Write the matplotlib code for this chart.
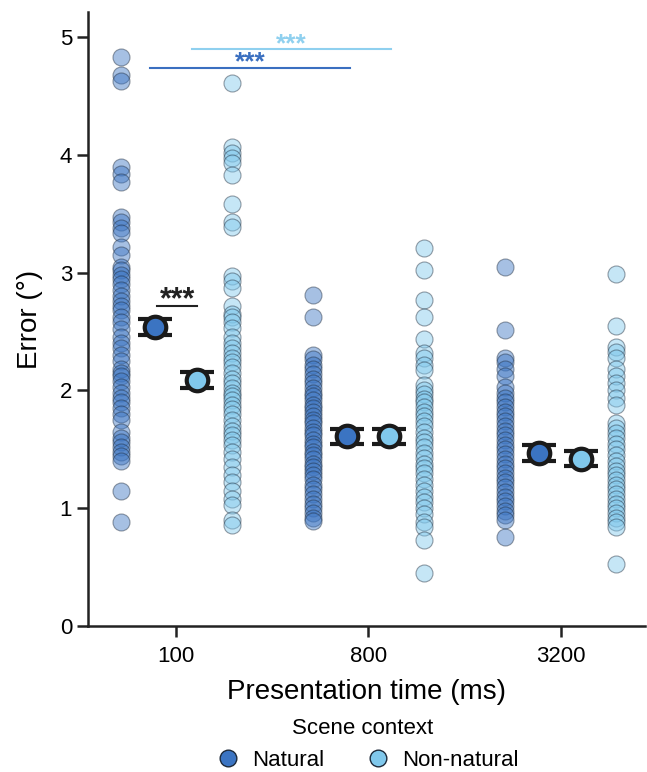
import matplotlib.pyplot as plt
from matplotlib.lines import Line2D
import numpy as np

plt.rcParams['font.family'] = ['Liberation Sans', 'DejaVu Sans']

# Dades
temps = ["100", "800", "3200"]
contextos = ["Natural", "Non-natural"]

natural_100 = [4.83, 4.68, 4.63, 3.90, 3.84, 3.77, 3.47, 3.43, 3.38, 3.34, 3.22, 3.15,
               3.05, 3.02, 2.98, 2.95, 2.90, 2.85, 2.80, 2.76, 2.72, 2.68, 2.62, 2.58,
               2.52, 2.45, 2.40, 2.36, 2.30, 2.25, 2.18, 2.15, 2.12, 2.08, 2.03, 1.98,
               1.94, 1.90, 1.85, 1.80, 1.75, 1.65, 1.60, 1.56, 1.52, 1.48, 1.44, 1.40,
               1.15, 0.88]
nonnat_100 = [4.61, 4.07, 4.02, 3.97, 3.93, 3.83, 3.58, 3.43, 3.39, 2.97, 2.93, 2.87,
              2.72, 2.65, 2.62, 2.58, 2.53, 2.45, 2.40, 2.36, 2.32, 2.28, 2.24, 2.20,
              2.15, 2.10, 2.06, 2.02, 1.98, 1.95, 1.92, 1.88, 1.84, 1.80, 1.75, 1.70,
              1.66, 1.62, 1.58, 1.54, 1.48, 1.42, 1.35, 1.28, 1.22, 1.15, 1.08, 1.03,
              0.90, 0.86]
natural_800 = [2.81, 2.62, 2.30, 2.27, 2.22, 2.18, 2.14, 2.10, 2.06, 2.02, 1.98, 1.95,
               1.92, 1.88, 1.85, 1.82, 1.78, 1.75, 1.72, 1.68, 1.65, 1.62, 1.58, 1.55,
               1.52, 1.48, 1.45, 1.42, 1.38, 1.35, 1.32, 1.28, 1.25, 1.20, 1.16, 1.12,
               1.08, 1.04, 1.00, 0.96, 0.92, 0.89]
nonnat_800 = [3.21, 3.02, 2.77, 2.62, 2.44, 2.32, 2.28, 2.22, 2.17, 2.05, 2.00, 1.97,
              1.93, 1.90, 1.86, 1.82, 1.78, 1.74, 1.70, 1.65, 1.60, 1.56, 1.52, 1.47,
              1.43, 1.38, 1.34, 1.30, 1.25, 1.20, 1.15, 1.10, 1.05, 1.00, 0.95, 0.88,
              0.84, 0.73, 0.45]
natural_3200 = [3.05, 2.51, 2.28, 2.24, 2.18, 2.12, 2.03, 1.98, 1.94, 1.90, 1.86, 1.82,
                1.78, 1.74, 1.70, 1.66, 1.62, 1.58, 1.54, 1.50, 1.46, 1.42, 1.38, 1.34,
                1.30, 1.26, 1.22, 1.18, 1.14, 1.10, 1.06, 1.02, 0.98, 0.94, 0.90, 0.76]
nonnat_3200 = [2.99, 2.55, 2.37, 2.33, 2.28, 2.18, 2.12, 2.06, 2.00, 1.94, 1.88, 1.72,
               1.68, 1.64, 1.60, 1.55, 1.50, 1.45, 1.40, 1.36, 1.32, 1.28, 1.24, 1.20,
               1.16, 1.12, 1.08, 1.04, 1.00, 0.96, 0.92, 0.88, 0.84, 0.53]

individus = {"Natural": [natural_100, natural_800, natural_3200],
             "Non-natural": [nonnat_100, nonnat_800, nonnat_3200]}

mitjanes_natural = [2.54, 1.61, 1.47]
mitjanes_nonnat = [2.09, 1.61, 1.42]
error_natural = [0.07, 0.065, 0.065]
error_nonnat = [0.065, 0.065, 0.065]

colors = {"Natural": "#3b74c2", "Non-natural": "#80c8ec"}
colors_linia = {"Natural": "#3a6fc0", "Non-natural": "#8fd0ef"}

fig = plt.figure(figsize=(6.47, 7.72), dpi=100)
ax = fig.add_axes([0.136, 0.189, 0.861, 0.795])

x = np.arange(len(temps))
offset_punts = {"Natural": -0.29, "Non-natural": 0.29}
offset_mitjana = {"Natural": -0.11, "Non-natural": 0.105}
mitjanes = {"Natural": mitjanes_natural, "Non-natural": mitjanes_nonnat}
errors = {"Natural": error_natural, "Non-natural": error_nonnat}

for c in contextos:
    for i in range(len(temps)):
        vals = individus[c][i]
        ax.scatter(np.full(len(vals), x[i] + offset_punts[c]), vals, s=150,
                   color=colors[c], alpha=0.45, edgecolor="#1d2a3a", linewidth=0.8, zorder=2)
    ax.errorbar(x + offset_mitjana[c], mitjanes[c], yerr=errors[c], fmt='o',
                color="#1a1a1a", ecolor="#1a1a1a", elinewidth=3, capsize=12, capthick=3.2,
                markersize=15.5, markerfacecolor=colors[c], markeredgecolor="#1a1a1a",
                markeredgewidth=3, zorder=4)

# Significància
ax.plot([-0.10, 0.11], [2.72, 2.72], color="#222222", lw=1.5)
ax.annotate("***", xy=(0.005, 2.72), xytext=(0, -1.5), textcoords='offset points',
            ha='center', va='baseline', fontsize=22, fontweight='bold', color="#222222")
ax.plot([-0.135, 0.906], [4.74, 4.74], color=colors_linia["Natural"], lw=1.5)
ax.annotate("***", xy=(0.385, 4.74), xytext=(0, -1.5), textcoords='offset points',
            ha='center', va='baseline', fontsize=19, fontweight='bold', color=colors_linia["Natural"])
ax.plot([0.083, 1.12], [4.90, 4.90], color=colors_linia["Non-natural"], lw=1.5)
ax.annotate("***", xy=(0.60, 4.90), xytext=(0, -1.5), textcoords='offset points',
            ha='center', va='baseline', fontsize=19, fontweight='bold', color=colors_linia["Non-natural"])

ax.set_xlim(-0.46, 2.44)
ax.set_ylim(0, 5.21)
ax.set_xticks(x)
ax.set_xticklabels(temps)
ax.set_yticks([0, 1, 2, 3, 4, 5])
ax.tick_params(axis='both', labelsize=16, width=1.8, length=8, color="#222222")
ax.tick_params(axis='x', pad=6)
for s in ["top", "right"]:
    ax.spines[s].set_visible(False)
for s in ["left", "bottom"]:
    ax.spines[s].set_linewidth(1.8)
    ax.spines[s].set_color("#222222")

ax.set_xlabel("Presentation time (ms)", fontsize=20, labelpad=9)
ax.set_ylabel("Error (°)", fontsize=20, labelpad=12)

handles = [Line2D([0], [0], marker='o', ls='', markersize=12, markerfacecolor=colors[c],
                  markeredgecolor="#1d2a3a", markeredgewidth=1) for c in contextos]
fig.legend(handles, contextos, loc='lower center', bbox_to_anchor=(0.56, -0.016), ncol=2,
           frameon=False, title="Scene context", fontsize=16, title_fontsize=16,
           handletextpad=0.1, columnspacing=1.4, borderaxespad=0.2)

fig.savefig("out.png", dpi=100)
